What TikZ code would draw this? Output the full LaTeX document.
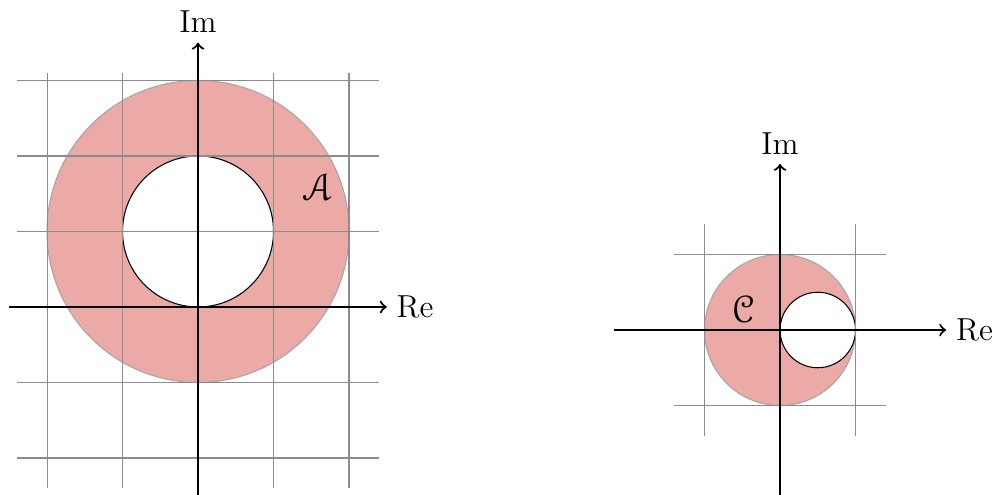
\documentclass[tikz,border=0pt]{standalone}
\usepackage{eucal}
\definecolor{annulus}{RGB}{236,170,167}
\begin{document}
\begin{tikzpicture}[gridline/.style={gray!90,thin},axisline/.style={->,thick},lbl/.style={font=\large},setlbl/.style={font=\Large}]
\useasboundingbox (-2.623,-2.490) rectangle (10.596,4.066);
% left plane: ring around i
\fill[annulus] (0,1) circle (2);
\draw[gray!70] (0,1) circle (2);
\filldraw[fill=white,draw=black] (0,1) circle (1);
\foreach \x in {-2,-1,1,2} \draw[gridline] (\x,-2.4) -- (\x,3.1);
\foreach \y in {-2,-1,1,2,3} \draw[gridline] (-2.4,\y) -- (2.4,\y);
\draw[axisline] (-2.5,0) -- (2.5,0) node[right,lbl] (re1) {Re};
\draw[axisline] (0,-2.5) -- (0,3.5) node[above,lbl] (im1) {Im};
\node[setlbl] (setA) at (1.59,1.59) {$\mathcal{A}$};
% right plane: unit disk minus small disk
\begin{scope}[shift={(7.709,-0.305)}]
\fill[annulus] (0,0) circle (1);
\draw[gray!70] (0,0) circle (1);
\filldraw[fill=white,draw=black] (0.5,0) circle (0.5);
\foreach \x in {-1,1} \draw[gridline] (\x,-1.4) -- (\x,1.4);
\foreach \y in {-1,1} \draw[gridline] (-1.4,\y) -- (1.4,\y);
\draw[axisline] (-2.2,0) -- (2.2,0) node[right,lbl] (re2) {Re};
\draw[axisline] (0,-2.2) -- (0,2.2) node[above,lbl] (im2) {Im};
\node[setlbl] (setC) at (-0.49,0.28) {$\mathcal{C}$};
\end{scope}
\end{tikzpicture}
\end{document}
